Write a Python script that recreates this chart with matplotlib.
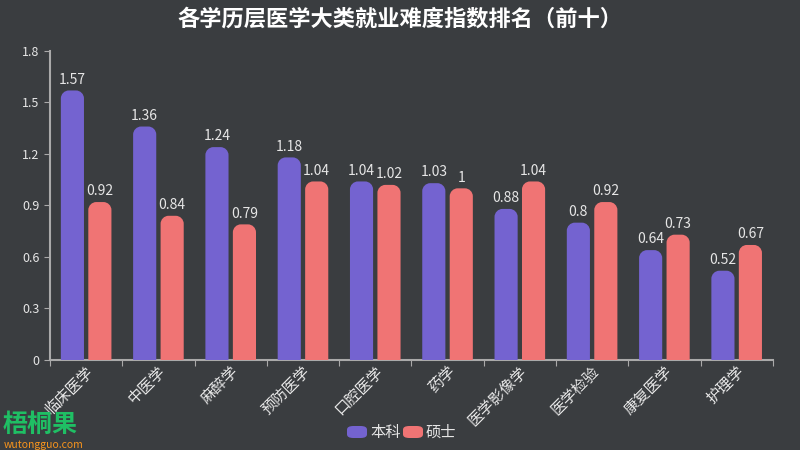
import matplotlib
matplotlib.use("Agg")
import matplotlib.pyplot as plt
from matplotlib.path import Path
from matplotlib.patches import PathPatch, FancyBboxPatch
from matplotlib.transforms import offset_copy
import numpy as np

plt.rcParams['font.family'] = ['Noto Sans CJK SC', 'DejaVu Sans']

categories = ["临床医学", "中医学", "麻醉学", "预防医学", "口腔医学", "药学", "医学影像学", "医学检验", "康复医学", "护理学"]
bachelor = [1.57, 1.36, 1.24, 1.18, 1.04, 1.03, 0.88, 0.8, 0.64, 0.52]
master = [0.92, 0.84, 0.79, 1.04, 1.02, 1.0, 1.04, 0.92, 0.73, 0.67]
series_names = ["本科", "硕士"]
yticks = [0, 0.3, 0.6, 0.9, 1.2, 1.5, 1.8]

BG = "#3a3d40"
C1 = "#7463d0"
C2 = "#f07474"
TXT = "#e6e6e6"

fig = plt.figure(figsize=(8, 4.5), dpi=100, facecolor=BG)
ax = fig.add_axes([0.0625, 0.2, 0.9035, 0.6867], facecolor=BG)
ax.set_xlim(0, len(categories))
ax.set_ylim(0, 1.8)

px_x = len(categories) / 723.0
px_y = 1.8 / 309.0
r_px = 8

def rounded_bar(x0, w, h, color):
    rx = r_px * px_x
    ry = min(r_px * px_y, h)
    k = 0.5523
    verts = [(x0, 0), (x0, h - ry),
             (x0, h - ry + k * ry), (x0 + rx - k * rx, h), (x0 + rx, h),
             (x0 + w - rx, h),
             (x0 + w - rx + k * rx, h), (x0 + w, h - ry + k * ry), (x0 + w, h - ry),
             (x0 + w, 0), (x0, 0)]
    codes = [Path.MOVETO, Path.LINETO,
             Path.CURVE4, Path.CURVE4, Path.CURVE4,
             Path.LINETO,
             Path.CURVE4, Path.CURVE4, Path.CURVE4,
             Path.LINETO, Path.CLOSEPOLY]
    ax.add_patch(PathPatch(Path(verts, codes), facecolor=color, edgecolor='none', zorder=3))

w = 0.32
off = 0.19
centers = np.arange(len(categories)) + 0.5
for c, b, m in zip(centers, bachelor, master):
    rounded_bar(c - off - w / 2, w, b, C1)
    rounded_bar(c + off - w / 2, w, m, C2)
    ax.text(c - off, b + 0.022, f"{b:g}", ha='center', va='bottom', color=TXT, fontsize=10)
    ax.text(c + off, m + 0.022, f"{m:g}", ha='center', va='bottom', color=TXT, fontsize=10)

for s in ['top', 'right']:
    ax.spines[s].set_visible(False)
for s in ['left', 'bottom']:
    ax.spines[s].set_color('#aaaaaa')
    ax.spines[s].set_linewidth(1.5)

ax.set_yticks(yticks)
ax.set_yticklabels([f"{v:g}" for v in yticks])
ax.tick_params(axis='y', colors='#aaaaaa', labelcolor=TXT, labelsize=9, length=4)
ax.set_xticks(np.arange(len(categories) + 1))
ax.set_xticklabels([])
ax.tick_params(axis='x', colors='#aaaaaa', length=4)
lab_tr = offset_copy(ax.transData, fig=fig, x=-1, y=-3, units='dots')
for c, lab in zip(centers, categories):
    ax.text(c, 0, lab, rotation=45, ha='right', va='top', rotation_mode='anchor',
            color=TXT, fontsize=11, transform=lab_tr, clip_on=False)

fig.text(0.5, 0.957, "各学历层医学大类就业难度指数排名（前十）", ha='center', va='center',
         color='white', fontsize=16, fontweight='bold')

# legend
lx = [347 / 800, 403 / 800]
for x, col, name in zip(lx, [C1, C2], series_names):
    fig.patches.append(FancyBboxPatch((x, 1 - 438 / 450), 20 / 800, 12 / 450,
                                      boxstyle="round,pad=0,rounding_size=0.008",
                                      transform=fig.transFigure, facecolor=col, edgecolor='none'))
    fig.text(x + 23 / 800, 1 - 432 / 450, name, ha='left', va='center', color=TXT, fontsize=11)

# watermark
fig.text(3 / 800, 1 - 432 / 450, "梧桐果", ha='left', va='baseline', color='#1fbf64',
         fontsize=18, fontweight='bold')
fig.text(4 / 800, 1 - 448 / 450, "wutongguo.com", ha='left', va='baseline', color='#f7941d',
         fontsize=7.5)

fig.savefig("out.png", dpi=100, facecolor=BG)
